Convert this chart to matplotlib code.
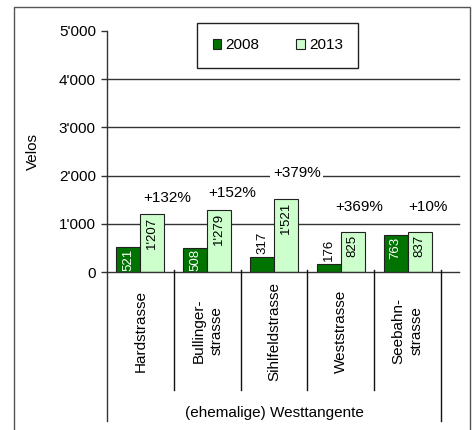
import matplotlib
matplotlib.use("Agg")
import matplotlib.pyplot as plt
import matplotlib.patches as mpatches
import numpy as np

plt.rcParams['font.family'] = ['Liberation Sans', 'DejaVu Sans']

categories = ["Hardstrasse", "Bullinger-\nstrasse", "Sihlfeldstrasse", "Weststrasse", "Seebahn-\nstrasse"]
group_label = "(ehemalige) Westtangente"
values_2008 = [521, 508, 317, 176, 763]
values_2013 = [1207, 1279, 1521, 825, 837]
labels_2008 = ["521", "508", "317", "176", "763"]
labels_2013 = ["1'207", "1'279", "1'521", "825", "837"]
changes = ["+132%", "+152%", "+379%", "+369%", "+10%"]
change_y = [1540, 1640, 2050, 1350, 1350]
change_dx = [0.40, 0.37, 0.34, 0.28, 0.31]
yticks = [0, 1000, 2000, 3000, 4000, 5000]
ytick_labels = ["0", "1'000", "2'000", "3'000", "4'000", "5'000"]
series_names = ["2008", "2013"]

dark = "#007300"
light = "#CCFFCC"

W, H = 475, 430
fig = plt.figure(figsize=(W / 100, H / 100), dpi=100)
ax = fig.add_axes([107 / W, 1 - 272 / H, 334 / W, 241 / H])

# outer border
border = mpatches.Rectangle((14 / W, -0.05), (470 - 14) / W, 1.05 - 7 / H,
                            transform=fig.transFigure, fill=False,
                            edgecolor="#555555", linewidth=1.0)
fig.patches.append(border)

x = np.arange(len(categories))
bw = 0.36
ax.set_xlim(-0.5, len(categories) - 0.5)
ax.set_ylim(0, 5000)

# gridlines (extend slightly beyond plot area)
for t in yticks[1:-1]:
    ax.plot([-0.5, 4.77], [t, t], color="#333333", lw=1.0, clip_on=False, zorder=1)
ax.plot([-0.5, 4.77], [0, 0], color="#333333", lw=1.0, clip_on=False, zorder=3)

ax.bar(x - bw / 2, values_2008, bw, color=dark, edgecolor="#222222", lw=0.8, zorder=2)
ax.bar(x + bw / 2, values_2013, bw, color=light, edgecolor="#222222", lw=0.8, zorder=2)

for i, (v, lab) in enumerate(zip(values_2008, labels_2008)):
    if v > 400:
        ax.annotate(lab, (x[i] - bw / 2, v), xytext=(0, -1), textcoords="offset points",
                    rotation=90, ha="center", va="top", color="white", fontsize=9.5, zorder=4)
    else:
        ax.annotate(lab, (x[i] - bw / 2, v), xytext=(0, 2), textcoords="offset points",
                    rotation=90, ha="center", va="bottom", color="black", fontsize=9.5, zorder=4)
for i, (v, lab) in enumerate(zip(values_2013, labels_2013)):
    ax.annotate(lab, (x[i] + bw / 2, v), xytext=(0, -2), textcoords="offset points",
                rotation=90, ha="center", va="top", color="black", fontsize=9.5, zorder=4)

for i, (c, cy, dx) in enumerate(zip(changes, change_y, change_dx)):
    ax.text(x[i] + dx, cy, c, ha="center", va="center", fontsize=11, zorder=5,
            bbox=dict(facecolor="white", edgecolor="none", pad=2))

# axes styling
for s in ax.spines.values():
    s.set_visible(False)
ax.set_yticks(yticks)
ax.set_yticklabels(ytick_labels, fontsize=11)
ax.tick_params(axis="y", length=4, width=1, color="#333333", pad=4)
ax.set_xticks([])
ax.set_ylabel("Velos", fontsize=11)
ax.yaxis.set_label_coords(-0.2, 0.5)

trans = ax.get_xaxis_transform()
# y axis line
ax.plot([-0.5, -0.5], [1.0, -0.618], color="#333333", lw=1.0, transform=trans, clip_on=False, zorder=3)
# right outer separator
ax.plot([4.5, 4.5], [0.008, -0.618], color="#111111", lw=1.0, transform=trans, clip_on=False, zorder=3)
# inner separators
for b in np.arange(0.5, 4.5, 1.0):
    ax.plot([b, b], [0.008, -0.49], color="#111111", lw=1.0, transform=trans, clip_on=False, zorder=3)

for i, c in enumerate(categories):
    ax.text(x[i], -0.245, c, transform=trans, rotation=90, ha="center", va="center",
            fontsize=11, multialignment="center", linespacing=1.35)
ax.text(2.0, -0.585, group_label, transform=trans, ha="center", va="center", fontsize=11)

handles = [mpatches.Patch(facecolor=dark, edgecolor="#222222", lw=0.8),
           mpatches.Patch(facecolor=light, edgecolor="#222222", lw=0.8)]
leg = ax.legend(handles, series_names, loc="center", bbox_to_anchor=(0.5115, 0.94),
                ncol=2, fontsize=11, frameon=True, fancybox=False, framealpha=1,
                edgecolor="#222222", handlelength=0.55, handleheight=0.55,
                handletextpad=0.3, columnspacing=2.4, borderpad=1.0)
leg.get_frame().set_linewidth(1.0)

fig.savefig("out.png", dpi=100)
